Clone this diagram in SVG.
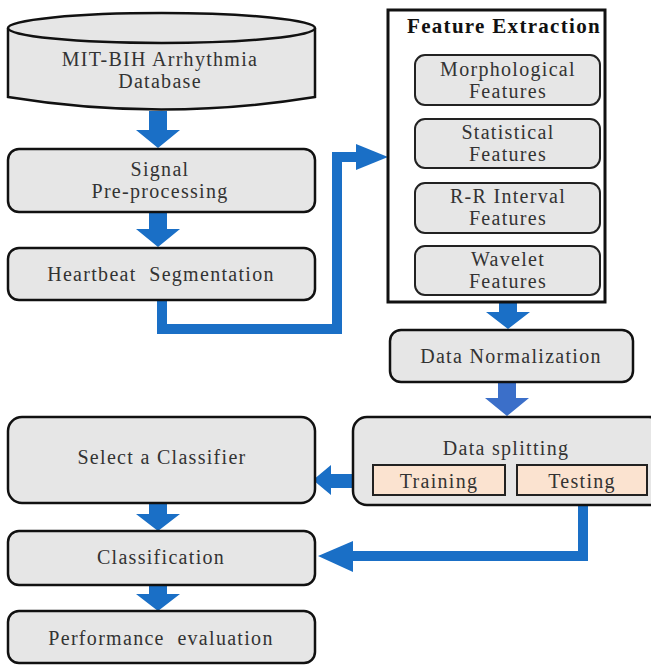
<svg xmlns="http://www.w3.org/2000/svg" width="651" height="666" viewBox="0 0 651 666">
<defs>
<style>
.box{fill:#e6e6e6;stroke:#111;stroke-width:2.5}
.sub{fill:#e6e6e6;stroke:#222;stroke-width:2}
.peach{fill:#fbe3d0;stroke:#222;stroke-width:2}
.t{font-family:"Liberation Serif","Times New Roman",serif;font-size:20px;letter-spacing:1.3px;fill:#333;text-anchor:middle}
.b{font-weight:bold;fill:#111;font-size:21px}
.arr{fill:#1a6fc6}
.arr2{fill:#3b6fc9}
.line{fill:none;stroke:#1a6fc6;stroke-width:10;stroke-linejoin:miter}
</style>
</defs>
<rect width="651" height="666" fill="#fff"/>

<g id="connectors">
<polygon class="arr" points="149,111 167,111 167,130 180,130 158,148 136,130 149,130"/>
<polygon class="arr" points="149,212 167,212 167,229 180,229 158,247 136,229 149,229"/>
<polygon class="arr" points="499,302 517,302 517,312 530,312 508,329 486,312 499,312"/>
<polygon class="arr2" points="498,382 516,382 516,398 529,398 507,416 485,398 498,398"/>
<polygon class="arr" points="149,503 167,503 167,514 180,514 158,531 136,514 149,514"/>
<polygon class="arr" points="149,585 167,585 167,594 180,594 158,611 136,594 149,594"/>
<polyline class="line" points="162,300 162,329 337,329 337,157 358,157"/>
<polygon class="arr" points="356,144 388,157 356,170"/>
<polygon class="arr" points="374,474 331,474 331,465 313,480 331,495 331,488 374,488"/>
<polyline class="line" points="583,495 583,556 350,556"/>
<polygon class="arr" points="353,541 318,556 353,572"/>
</g>

<g id="database">
<path class="box" d="M8,28 L8,97 Q161,122 315,97 L315,28"/>
<ellipse class="box" cx="161.5" cy="28" rx="153.5" ry="15"/>
<text class="t" x="160" y="66">MIT-BIH Arrhythmia</text>
<text class="t" x="160" y="88">Database</text>
</g>

<g id="preprocessing">
<rect class="box" x="8" y="149" width="307" height="63" rx="11"/>
<text class="t" x="160" y="176">Signal</text>
<text class="t" x="160" y="198">Pre-processing</text>
</g>

<g id="segmentation">
<rect class="box" x="8" y="248" width="307" height="52" rx="11"/>
<text class="t" x="161" y="281">Heartbeat&#160; Segmentation</text>
</g>

<g id="feature-extraction">
<rect x="388" y="10" width="217" height="292" fill="#fff" stroke="#111" stroke-width="3"/>
<text class="t b" x="504" y="33">Feature Extraction</text>
</g>

<g id="morphological">
<rect class="sub" x="415" y="55" width="185" height="50" rx="10"/>
<text class="t" x="508" y="76">Morphological</text>
<text class="t" x="508" y="98">Features</text>
</g>

<g id="statistical">
<rect class="sub" x="415" y="119" width="185" height="49" rx="10"/>
<text class="t" x="508" y="139">Statistical</text>
<text class="t" x="508" y="161">Features</text>
</g>

<g id="rr-interval">
<rect class="sub" x="415" y="183" width="185" height="50" rx="10"/>
<text class="t" x="508" y="203">R-R Interval</text>
<text class="t" x="508" y="225">Features</text>
</g>

<g id="wavelet">
<rect class="sub" x="415" y="246" width="185" height="49" rx="10"/>
<text class="t" x="508" y="266">Wavelet</text>
<text class="t" x="508" y="288">Features</text>
</g>

<g id="normalization">
<rect class="box" x="390" y="330" width="243" height="52" rx="11"/>
<text class="t" x="511" y="363">Data Normalization</text>
</g>

<g id="splitting">
<rect class="box" x="353" y="417" width="310" height="88" rx="14"/>
<text class="t" x="506" y="455">Data splitting</text>
</g>

<g id="training">
<rect class="peach" x="373" y="465" width="132" height="30"/>
<text class="t" x="439" y="488">Training</text>
</g>

<g id="testing">
<rect class="peach" x="517" y="465" width="130" height="30"/>
<text class="t" x="582" y="488">Testing</text>
</g>

<g id="classifier">
<rect class="box" x="8" y="417" width="307" height="86" rx="14"/>
<text class="t" x="162" y="464">Select a Classifier</text>
</g>

<g id="classification">
<rect class="box" x="8" y="531" width="307" height="54" rx="11"/>
<text class="t" x="161" y="564">Classification</text>
</g>

<g id="performance">
<rect class="box" x="8" y="611" width="307" height="52" rx="11"/>
<text class="t" x="161" y="645">Performance&#160; evaluation</text>
</g>
</svg>
